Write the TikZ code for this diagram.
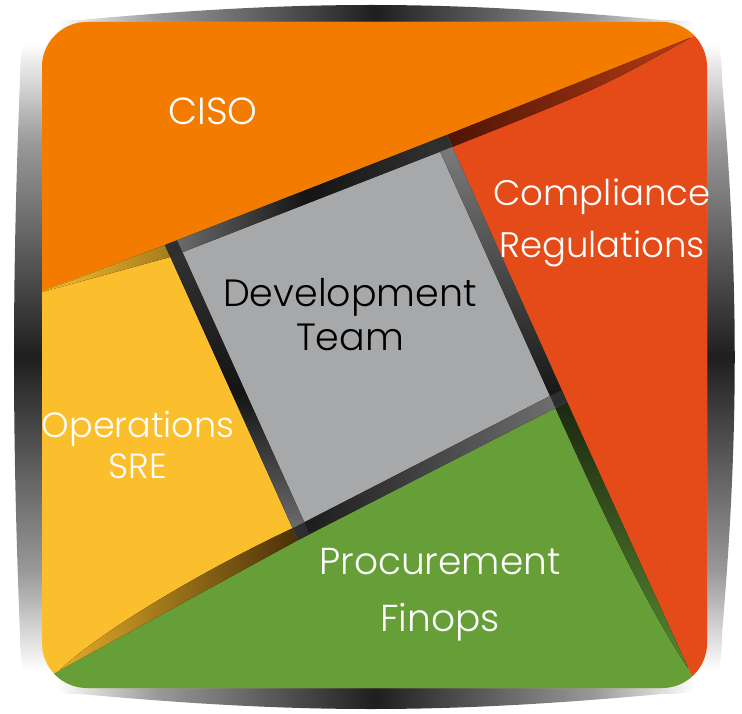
\documentclass[tikz,border=0pt]{standalone}
\usepackage{fontspec}
\setmainfont{Poppins Light}
\definecolor{cisoOrange}{HTML}{F37C00}
\definecolor{complianceRed}{HTML}{E44B19}
\definecolor{opsYellow}{HTML}{FBBF2D}
\definecolor{finopsGreen}{HTML}{669F38}
\definecolor{devGray}{HTML}{A7A8AA}
\definecolor{redShadow}{HTML}{4E1405}
\definecolor{greenShadow}{HTML}{1C2812}
\definecolor{yellowShadow}{HTML}{4A3008}
\pgfdeclarehorizontalshading{rimH}{100bp}{color(0bp)=(white); color(28bp)=(white);
  color(35bp)=(black!40); color(50bp)=(black!88); color(65bp)=(black!40);
  color(72bp)=(white); color(100bp)=(white)}
\pgfdeclareverticalshading{rimV}{100bp}{color(0bp)=(white); color(28bp)=(white);
  color(35bp)=(black!40); color(50bp)=(black!88); color(65bp)=(black!40);
  color(72bp)=(white); color(100bp)=(white)}
\tikzset{
  area/.style={text=white,align=center},
  rim/.style={draw=none},
  patch/.style={fill=black!82}
}
\begin{document}
\begin{tikzpicture}[x=1pt,y=-1pt]
  \useasboundingbox (0,0) rectangle (742,714);
  % outer frame
  \def\pillow{(20,80) .. controls (20,30) and (30,20) .. (80,20)
    .. controls (300,0) and (442,0) .. (662,20)
    .. controls (712,20) and (722,30) .. (722,80)
    .. controls (739,280) and (739,434) .. (722,634)
    .. controls (722,684) and (712,694) .. (662,694)
    .. controls (442,714) and (300,714) .. (80,694)
    .. controls (30,694) and (20,684) .. (20,634)
    .. controls (12,434) and (12,280) .. cycle}
  \begin{scope}
    \clip (371,357) -- (-40,-40) -- (782,-40) -- (371,357) -- (-40,754) -- (782,754) -- cycle;
    \shade[shading=rimH] \pillow;
  \end{scope}
  \begin{scope}
    \clip (371,357) -- (-40,-40) -- (-40,754) -- (371,357) -- (782,-40) -- (782,754) -- cycle;
    \shade[shading=rimV] \pillow;
  \end{scope}
  % square corners
  \coordinate (TopLeft) at (165,245);
  \coordinate (TopRight) at (447,135);
  \coordinate (BottomRight) at (567,402);
  \coordinate (BottomLeft) at (298,540);
  \coordinate (TopLeftIn) at (182.4,252.2);
  \coordinate (TopRightIn) at (440.2,151.6);
  \coordinate (BottomRightIn) at (550.1,396);
  \coordinate (BottomLeftIn) at (304.3,522.3);
  % coloured areas
  \begin{scope}
    \clip[rounded corners=45] (42,22) rectangle (707,688);
    \fill[opsYellow] (0,0) rectangle (742,714);
    \fill[cisoOrange] (0,0) -- (742,0) -- (742,17) -- (TopRight) -- (TopLeft) -- (0,307) -- cycle;
    \fill[complianceRed] (TopRight) -- (742,17) -- (742,714) -- (709,714) -- (BottomRight) -- cycle;
    \fill[finopsGreen] (BottomLeft) -- (BottomRight) -- (709,714) -- (0,714) -- (0,703) -- cycle;
    \fill[left color=redShadow, right color=complianceRed!80!black] (TopRight) -- (690,38) .. controls (600,88) .. (452.3,146.9) -- cycle;
    \fill[top color=greenShadow, bottom color=finopsGreen!85!black] (BottomRight) -- (688,668) .. controls (643,600) and (597,500) .. (555.4,407.9) -- cycle;
    \fill[left color=opsYellow!90!black, right color=yellowShadow] (BottomLeft) -- (60,670) .. controls (100,632) and (200,572) .. (292.7,528.2) -- cycle;
    \fill[left color=opsYellow, right color=opsYellow!65!black] (TopLeft) -- (42,292) -- (170.3,256.9) -- cycle;
  \end{scope}
  % development square
  \fill[devGray] (TopLeft) -- (TopRight) -- (BottomRight) -- (BottomLeft) -- cycle;
  \fill[rim, left color=black!55, right color=black!80, middle color=black!92] (TopLeft) -- (TopRight) -- (TopRightIn) -- (TopLeftIn) -- cycle;
  \fill[rim, top color=black!50, bottom color=black!92] (TopRight) -- (BottomRight) -- (BottomRightIn) -- (TopRightIn) -- cycle;
  \fill[rim, left color=black!90, right color=black!55] (BottomRight) -- (BottomLeft) -- (BottomLeftIn) -- (BottomRightIn) -- cycle;
  \fill[rim, top color=black!80, bottom color=black!55, middle color=black!92] (BottomLeft) -- (TopLeft) -- (TopLeftIn) -- (BottomLeftIn) -- cycle;
  \fill[patch] (TopLeft) -- (177.1,240.3) -- (TopLeftIn) -- (170.3,256.9) -- cycle;
  \fill[patch] (TopRight) -- (434.9,139.7) -- (TopRightIn) -- (452.3,146.9) -- cycle;
  \fill[patch] (BottomRight) -- (561.7,390.1) -- (BottomRightIn) -- (555.4,407.9) -- cycle;
  \fill[patch] (BottomLeft) -- (309.6,534.1) -- (BottomLeftIn) -- (292.7,528.2) -- cycle;
  % labels
  \node[area, font=\fontsize{37.7}{52}\selectfont] (ciso) at (213,111) {CISO};
  \node[area, font=\fontsize{35.5}{52}\selectfont] (compliance) at (602,223) {Compliance\\Regulations};
  \node[area, text=black, font=\fontsize{38}{44}\selectfont] (devteam) at (350,315) {Development\\Team};
  \node[area, font=\fontsize{35}{41}\selectfont] (operations) at (138,445) {Operations\\SRE};
  \node[area, font=\fontsize{37.5}{57}\selectfont] (procurement) at (440,595) {Procurement\\Finops};
\end{tikzpicture}
\end{document}
